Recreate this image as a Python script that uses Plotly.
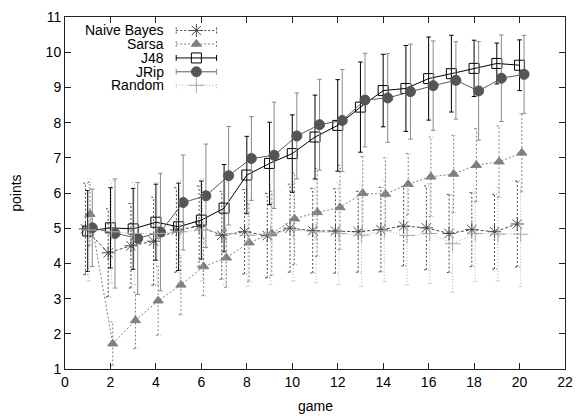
import plotly.graph_objects as go

games = list(range(1, 21))

nb_mean = [4.98, 4.30, 4.50, 4.63, 4.95, 5.05, 4.80, 4.90, 4.79, 5.00,
           4.93, 4.92, 4.90, 4.96, 5.06, 5.01, 4.85, 4.96, 4.90, 5.12]
nb_sd = [1.30, 1.25, 1.20, 1.25, 1.20, 1.15, 1.25, 1.20, 1.20, 1.25,
         1.20, 1.20, 1.15, 1.20, 1.13, 1.19, 1.11, 1.05, 1.06, 1.22]

sarsa_mean = [5.40, 1.72, 2.38, 2.94, 3.39, 3.91, 4.16, 4.59, 4.85, 5.27,
              5.45, 5.59, 5.99, 5.97, 6.25, 6.46, 6.54, 6.79, 6.89, 7.14]
sarsa_sd = [0.90, 0.62, 0.80, 0.98, 0.85, 0.83, 0.84, 1.10, 1.20, 1.30,
            1.25, 1.20, 1.05, 1.03, 0.87, 1.13, 1.10, 1.04, 1.01, 1.11]

j48_mean = [4.92, 5.01, 4.98, 5.17, 5.04, 5.23, 5.57, 6.51, 6.84, 7.12,
            7.59, 7.92, 8.44, 8.91, 8.97, 9.25, 9.39, 9.54, 9.68, 9.63]
j48_sd = [1.15, 1.14, 1.15, 1.08, 1.24, 1.11, 1.24, 1.10, 1.17, 1.10,
          1.19, 1.30, 1.28, 1.03, 1.22, 1.18, 1.09, 0.80, 0.58, 0.72]

jrip_mean = [5.01, 4.85, 4.71, 4.89, 5.73, 5.92, 6.49, 6.98, 7.07, 7.62,
             7.94, 8.06, 8.64, 8.70, 8.88, 9.05, 9.20, 8.90, 9.26, 9.37]
jrip_sd = [1.10, 1.55, 1.59, 1.67, 1.35, 1.47, 1.40, 1.19, 1.51, 1.22,
           1.29, 1.45, 1.33, 1.26, 1.35, 1.27, 1.10, 1.40, 1.23, 1.11]

rand_mean = [4.95, 4.90, 4.85, 4.85, 4.90, 4.95, 4.85, 4.80, 4.85, 4.95,
             4.90, 4.85, 4.80, 4.93, 4.79, 4.85, 4.56, 4.85, 4.83, 4.83]
rand_sd = [1.45, 1.45, 1.45, 1.45, 1.45, 1.45, 1.45, 1.45, 1.45, 1.45,
           1.45, 1.45, 1.45, 1.45, 1.40, 1.42, 1.38, 1.37, 1.33, 1.49]

x_ticks = list(range(0, 23, 2))
y_ticks = list(range(1, 12))

FONT = "Liberation Sans, Arial, sans-serif"

series = [
    # name, mean, sd, offset, line color, dash, marker symbol, marker color, size, bar color, bar dash
    ("Naive Bayes", nb_mean, nb_sd, -0.1, "#4a4a4a", "3px,2px", "asterisk-open", "#4a4a4a", 11, "#4a4a4a", "2px,2px"),
    ("Sarsa", sarsa_mean, sarsa_sd, 0.1, "#808080", "2px,2px", "triangle-up", "#808080", 9, "#808080", "2px,2px"),
    ("J48", j48_mean, j48_sd, 0.0, "#000000", "solid", "square-open", "#000000", 10, "#000000", "solid"),
    ("JRip", jrip_mean, jrip_sd, 0.2, "#5a5a5a", "solid", "circle", "#555555", 10, "#8a8a8a", "solid"),
    ("Random", rand_mean, rand_sd, 0.05, "#b0b0b0", "1px,2px", "cross-thin-open", "#a8a8a8", 11, "#b0b0b0", "1px,2px"),
]


def bar_segments(xs, lo, hi, cap):
    X, Y = [], []
    for x, l, h in zip(xs, lo, hi):
        X += [x, x, None, x - cap, x + cap, None, x - cap, x + cap, None]
        Y += [l, h, None, l, l, None, h, h, None]
    return X, Y


fig = go.Figure()

for name, mean, sd, off, lc, dash, sym, mc, ms, bc, bdash in series:
    xs = [g + off for g in games]
    lo = [m - s for m, s in zip(mean, sd)]
    hi = [m + s for m, s in zip(mean, sd)]
    bx, by = bar_segments(xs, lo, hi, 0.1)
    fig.add_trace(go.Scatter(x=bx, y=by, mode="lines",
                             line=dict(color=bc, width=1, dash=bdash),
                             showlegend=False, hoverinfo="skip", cliponaxis=True))
    fig.add_trace(go.Scatter(x=xs, y=mean, mode="lines+markers", name=name,
                             line=dict(color=lc, width=1, dash=dash),
                             marker=dict(symbol=sym, color=mc, size=ms,
                                         line=dict(color=mc, width=1)),
                             showlegend=False))

# custom gnuplot-style key (text right aligned, sample on the right)
key_rows = [0.9617, 0.9232, 0.8837, 0.8443, 0.8060]
kx0, kx1 = 0.2224, 0.3031
kxm = (kx0 + kx1) / 2
capdy = 0.0085
for (name, mean, sd, off, lc, dash, sym, mc, ms, bc, bdash), ky in zip(series, key_rows):
    fig.add_trace(go.Scatter(x=[kx0, kx1], y=[ky, ky], mode="lines",
                             line=dict(color=bc if bdash != "solid" else lc, width=1, dash=bdash),
                             xaxis="x2", yaxis="y2", showlegend=False, hoverinfo="skip"))
    fig.add_trace(go.Scatter(x=[kx0, kx0, None, kx1, kx1], y=[ky - capdy, ky + capdy, None, ky - capdy, ky + capdy],
                             mode="lines", line=dict(color=bc, width=1, dash=bdash),
                             xaxis="x2", yaxis="y2", showlegend=False, hoverinfo="skip"))
    fig.add_trace(go.Scatter(x=[kxm], y=[ky], mode="markers",
                             marker=dict(symbol=sym, color=mc, size=ms, line=dict(color=mc, width=1)),
                             xaxis="x2", yaxis="y2", showlegend=False, hoverinfo="skip"))
    fig.add_annotation(x=0.2028, y=ky, xref="paper", yref="paper", text=name,
                       showarrow=False, xanchor="right", yanchor="middle",
                       font=dict(family=FONT, size=14, color="#000000"))

# axis titles placed like the gnuplot original
fig.add_annotation(x=0.5, y=-0.1042, xref="paper", yref="paper", text="game",
                   showarrow=False, xanchor="center", yanchor="middle",
                   font=dict(family=FONT, size=14, color="#000000"))
fig.add_annotation(x=-0.0984, y=0.5, xref="paper", yref="paper", text="points",
                   showarrow=False, xanchor="center", yanchor="middle", textangle=-90,
                   font=dict(family=FONT, size=14, color="#000000"))

axis_common = dict(showline=True, linecolor="#222222", linewidth=1, mirror="ticks",
                   ticks="inside", ticklen=6, tickcolor="#222222", tickwidth=1,
                   showgrid=False, zeroline=False,
                   tickfont=dict(family=FONT, size=14, color="#000000"))

fig.update_layout(
    width=582, height=416,
    margin=dict(l=65, r=9, t=14, b=47),
    paper_bgcolor="white", plot_bgcolor="white",
    font=dict(family=FONT, size=14, color="#000000"),
    showlegend=False,
    xaxis=dict(range=[0, 22], tickvals=x_ticks, ticktext=[str(v) for v in x_ticks],
               **axis_common),
    yaxis=dict(range=[1, 11], tickvals=y_ticks, ticktext=[str(v) for v in y_ticks],
               **axis_common),
    xaxis2=dict(range=[0, 1], overlaying="x", visible=False, domain=[0, 1]),
    yaxis2=dict(range=[0, 1], overlaying="y", visible=False, domain=[0, 1]),
)

fig.write_html("out.html")
